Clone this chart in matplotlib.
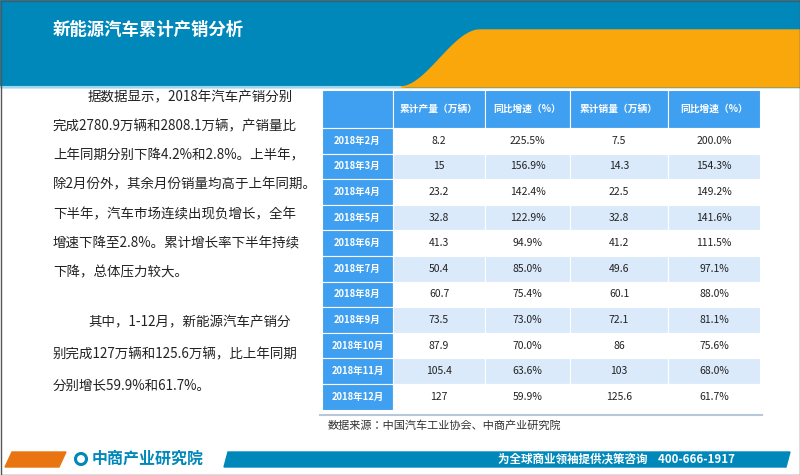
import matplotlib.pyplot as plt
import matplotlib.patches as mpatches
from matplotlib import font_manager
import numpy as np

cjk = sorted({f.name for f in font_manager.fontManager.ttflist if 'CJK' in f.name})
plt.rcParams['font.family'] = (cjk[:1] if cjk else []) + ['DejaVu Sans']

# data
months = ['2018年2月', '2018年3月', '2018年4月', '2018年5月', '2018年6月', '2018年7月',
          '2018年8月', '2018年9月', '2018年10月', '2018年11月', '2018年12月']
production = ['8.2', '15', '23.2', '32.8', '41.3', '50.4', '60.7', '73.5', '87.9', '105.4', '127']
prod_growth = ['225.5%', '156.9%', '142.4%', '122.9%', '94.9%', '85.0%', '75.4%', '73.0%', '70.0%', '63.6%', '59.9%']
sales = ['7.5', '14.3', '22.5', '32.8', '41.2', '49.6', '60.1', '72.1', '86', '103', '125.6']
sales_growth = ['200.0%', '154.3%', '149.2%', '141.6%', '111.5%', '97.1%', '88.0%', '81.1%', '75.6%', '68.0%', '61.7%']
headers = ['', '累计产量（万辆）', '同比增速（%）', '累计销量（万辆）', '同比增速（%）']

para1 = ['据数据显示，2018年汽车产销分别',
         '完成2780.9万辆和2808.1万辆，产销量比',
         '上年同期分别下降4.2%和2.8%。上半年，',
         '除2月份外，其余月份销量均高于上年同期。',
         '下半年，汽车市场连续出现负增长，全年',
         '增速下降至2.8%。累计增长率下半年持续',
         '下降，总体压力较大。']
para2 = ['其中，1-12月，新能源汽车产销分',
         '别完成127万辆和125.6万辆，比上年同期',
         '分别增长59.9%和61.7%。']

fig = plt.figure(figsize=(8, 4.75), dpi=100)
ax = fig.add_axes([0, 0, 1, 1])
ax.set_xlim(0, 800)
ax.set_ylim(475, 0)
ax.axis('off')

BLUE = '#0088bb'
ORANGE = '#f9a70a'
TB = '#3f9ff0'

# header band
ax.add_patch(mpatches.Rectangle((0, 0), 800, 87, color=BLUE, zorder=1))
t = np.linspace(0, 1, 50)
cx = 400 + 80 * t
cy = 87 - 57 * (3 * t**2 - 2 * t**3)
xs = np.concatenate([[400], cx, [800, 800]])
ys = np.concatenate([[87], cy, [30, 87]])
ax.fill(xs, ys, color=ORANGE, zorder=2)
ax.plot([0, 400], [87, 87], color='#9fd8ee', lw=1.5, zorder=3)
ax.text(53, 30, '新能源汽车累计产销分析', color='white', fontsize=12.5,
        fontweight='bold', va='center', zorder=4)

# slide border
ax.add_patch(mpatches.Rectangle((0.5, 0.5), 799, 474, fill=False, ec='#555555', lw=1, zorder=10))

# paragraphs
for i, line in enumerate(para1):
    ax.text(88 if i == 0 else 53, 97 + i * 29.3, line, fontsize=9.7, va='center', color='#222222')
for i, line in enumerate(para2):
    ax.text(88 if i == 0 else 53, 322 + i * 32, line, fontsize=9.7, va='center', color='#222222')

# table
col_x = [322, 393, 485, 570, 668, 760]
top, head_h, row_h = 90, 38, 25.6
for j in range(5):
    ax.add_patch(mpatches.Rectangle((col_x[j], top), col_x[j + 1] - col_x[j], head_h,
                                    color=TB, ec='white', lw=0.8, zorder=2))
    ax.text((col_x[j] + col_x[j + 1]) / 2, top + head_h / 2, headers[j], color='white',
            fontsize=7, ha='center', va='center', fontweight='bold', zorder=3)
cols = [production, prod_growth, sales, sales_growth]
for i, m in enumerate(months):
    y0 = top + head_h + i * row_h
    ax.add_patch(mpatches.Rectangle((col_x[0], y0), col_x[1] - col_x[0], row_h,
                                    color=TB, ec='white', lw=0.8, zorder=2))
    ax.text((col_x[0] + col_x[1]) / 2, y0 + row_h / 2, m, color='white', fontsize=6.8,
            ha='center', va='center', fontweight='bold', zorder=3)
    bg = '#dbeafa' if i % 2 == 1 else 'white'
    for j in range(1, 5):
        ax.add_patch(mpatches.Rectangle((col_x[j], y0), col_x[j + 1] - col_x[j], row_h,
                                        color=bg, ec='white', lw=0.8, zorder=2))
        ax.text((col_x[j] + col_x[j + 1]) / 2, y0 + row_h / 2, cols[j - 1][i], fontsize=7.5,
                ha='center', va='center', color='#222222', zorder=3)
bottom = top + head_h + len(months) * row_h
ax.plot([320, 762], [bottom + 5, bottom + 5], color='#b8c8d8', lw=1.5)
ax.text(328, bottom + 16, '数据来源：中国汽车工业协会、中商产业研究院', fontsize=8,
        va='center', color='#333333')

# footer
ax.add_patch(mpatches.Polygon([[5, 467], [12, 452], [66, 452], [59, 467]], color='#e87511'))
ax.add_patch(mpatches.Polygon([[224, 467], [228, 452], [790, 452], [786, 467]], color=BLUE))
ax.add_patch(mpatches.Circle((81, 459), 5.5, fill=False, ec=BLUE, lw=2.2))
ax.text(92, 459, '中商产业研究院', color=BLUE, fontsize=11.5, fontweight='bold', va='center')
ax.text(735, 459, '为全球商业领袖提供决策咨询    400-666-1917', color='white', fontsize=8.3,
        fontweight='bold', va='center', ha='right')

fig.savefig('out.png', dpi=100)
